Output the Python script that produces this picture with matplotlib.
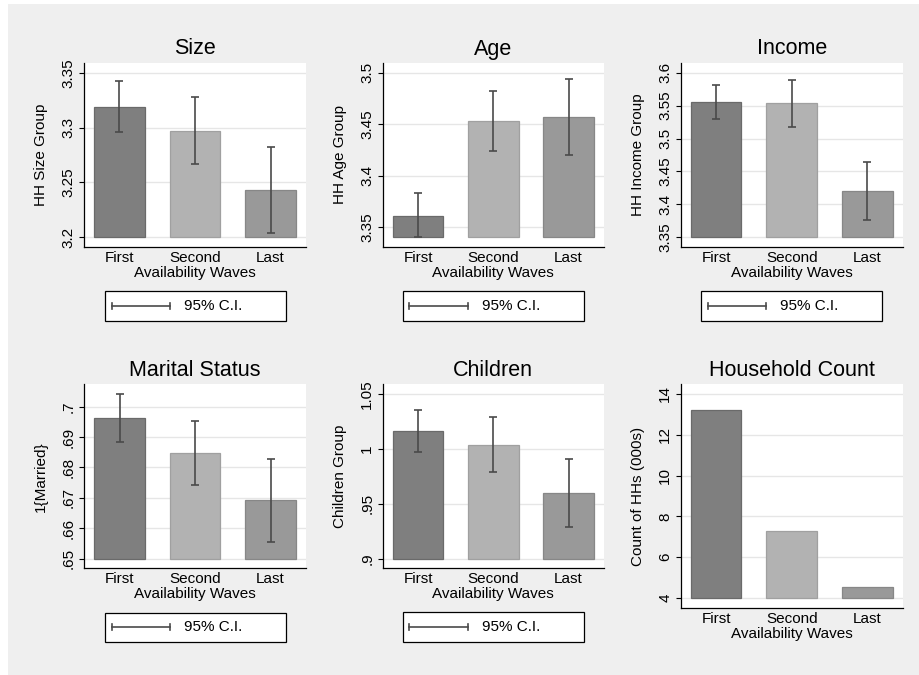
import matplotlib
matplotlib.use("Agg")
import matplotlib.pyplot as plt
from matplotlib.patches import Rectangle
from matplotlib.lines import Line2D

plt.rcParams["font.family"] = ["Liberation Sans", "DejaVu Sans"]

# ---- data -------------------------------------------------------------
waves = ["First", "Second", "Last"]

size_mean = [3.319, 3.297, 3.243]
size_lo = [3.296, 3.267, 3.204]
size_hi = [3.342, 3.328, 3.282]
size_ticks = [3.2, 3.25, 3.3, 3.35]
size_ticklabels = ["3.2", "3.25", "3.3", "3.35"]

age_mean = [3.361, 3.453, 3.457]
age_lo = [3.340, 3.424, 3.420]
age_hi = [3.383, 3.482, 3.494]
age_ticks = [3.35, 3.4, 3.45, 3.5]
age_ticklabels = ["3.35", "3.4", "3.45", "3.5"]

income_mean = [3.556, 3.554, 3.421]
income_lo = [3.529, 3.518, 3.377]
income_hi = [3.582, 3.589, 3.464]
income_ticks = [3.35, 3.4, 3.45, 3.5, 3.55, 3.6]
income_ticklabels = ["3.35", "3.4", "3.45", "3.5", "3.55", "3.6"]

married_mean = [0.6962, 0.6847, 0.6693]
married_lo = [0.6884, 0.6741, 0.6556]
married_hi = [0.7042, 0.6954, 0.6829]
married_ticks = [0.65, 0.66, 0.67, 0.68, 0.69, 0.70]
married_ticklabels = [".65", ".66", ".67", ".68", ".69", ".7"]

children_mean = [1.0163, 1.0038, 0.9595]
children_lo = [0.9975, 0.9786, 0.9286]
children_hi = [1.0351, 1.0287, 0.9911]
children_ticks = [0.9, 0.95, 1.0, 1.05]
children_ticklabels = [".9", ".95", "1", "1.05"]

hh_count = [13.22, 7.28, 4.55]
hh_ticks = [4, 6, 8, 10, 12, 14]
hh_ticklabels = ["4", "6", "8", "10", "12", "14"]

# ---- style ------------------------------------------------------------
W, H = 920, 675
BAR_COLORS = ["#7f7f7f", "#b2b2b2", "#999999"]
EDGE_COLORS = ["#6a6a6a", "#a0a0a0", "#878787"]
ERR_COLOR = "#4a4a4a"
GRID_COLOR = "#e6e6e6"
BG_COLOR = "#efefef"
FS = 11
TITLE_FS = 15.5

fig = plt.figure(figsize=(W / 100, H / 100), dpi=100)
fig.patch.set_facecolor("white")


def fx(x):
    return x / W


def fy(y):
    return 1 - y / H


# grey graph region
fig.add_artist(Rectangle((fx(8), fy(H)), fx(W - 8), 1 - (4 / H),
                         transform=fig.transFigure, facecolor=BG_COLOR,
                         edgecolor="none", zorder=0))


def make_axes(left, top, right, bottom):
    return fig.add_axes([fx(left), fy(bottom), fx(right - left), (bottom - top) / H])


def draw_panel(box, title, ylabel, means, ticks, ticklabels, lo=None, hi=None):
    left, top, right, bottom = box
    ax = make_axes(*box)
    ax.set_facecolor("white")
    h_px = bottom - top
    w_px = right - left

    rng_lo = min([ticks[0]] + (list(lo) if lo is not None else []))
    rng_hi = max([ticks[-1]] + (list(hi) if hi is not None else []))
    pad = (rng_hi - rng_lo) * 9.7 / (h_px - 19.4)
    ax.set_ylim(rng_lo - pad, rng_hi + pad)
    ax.set_xlim(-0.47, 2.47)

    x = list(range(len(waves)))
    heights = [m - rng_lo for m in means]
    ax.bar(x, heights, bottom=rng_lo, width=0.67, color=BAR_COLORS,
           edgecolor=EDGE_COLORS, linewidth=0.9, zorder=2)
    if lo is not None:
        yerr = [[m - l for m, l in zip(means, lo)], [h - m for m, h in zip(means, hi)]]
        ax.errorbar(x, means, yerr=yerr, fmt="none", ecolor=ERR_COLOR,
                    elinewidth=1.2, capsize=3.2, capthick=1.2, zorder=3)

    ax.set_yticks(ticks)
    ax.set_yticklabels(ticklabels, rotation=90, va="center")
    ax.set_xticks(x)
    ax.set_xticklabels(waves)
    ax.grid(axis="y", color=GRID_COLOR, linewidth=1.0, zorder=0)
    ax.set_axisbelow(True)

    for s in ["top", "right"]:
        ax.spines[s].set_visible(False)
    for s in ["left", "bottom"]:
        ax.spines[s].set_color("black")
        ax.spines[s].set_linewidth(0.9)

    ax.tick_params(axis="y", length=3.6, width=0.8, pad=2.5, labelsize=FS)
    ax.tick_params(axis="x", length=0, pad=3.0, labelsize=FS)
    ax.set_xlabel("Availability Waves", fontsize=FS, labelpad=0.5)
    ax.set_ylabel(ylabel, fontsize=FS)
    ax.yaxis.set_label_coords(-36 / w_px, 0.5)

    fig.text(fx((left + right) / 2), fy(top - 8.5), title, ha="center",
             va="baseline", fontsize=TITLE_FS)
    return ax


def draw_ci_key(left, top, right, bottom):
    fig.add_artist(Rectangle((fx(left), fy(bottom)), fx(right - left), (bottom - top) / H,
                             transform=fig.transFigure, facecolor="white",
                             edgecolor="black", linewidth=0.9, zorder=5))
    yc = (top + bottom) / 2
    x0, x1 = left + 6.7, left + 65
    fig.add_artist(Line2D([fx(x0), fx(x1)], [fy(yc), fy(yc)], transform=fig.transFigure,
                          color=ERR_COLOR, linewidth=1.2, zorder=6))
    for xc in (x0, x1):
        fig.add_artist(Line2D([fx(xc), fx(xc)], [fy(yc - 3), fy(yc + 3)],
                              transform=fig.transFigure, color=ERR_COLOR,
                              linewidth=1.2, zorder=6))
    fig.text(fx(left + 79), fy(yc), "95% C.I.", ha="left", va="center",
             fontsize=FS, zorder=6)


draw_panel((84, 63, 306, 247), "Size", "HH Size Group", size_mean,
           size_ticks, size_ticklabels, size_lo, size_hi)
draw_panel((382.7, 63, 604, 247), "Age", "HH Age Group", age_mean,
           age_ticks, age_ticklabels, age_lo, age_hi)
draw_panel((680.7, 63, 902.7, 247), "Income", "HH Income Group", income_mean,
           income_ticks, income_ticklabels, income_lo, income_hi)
draw_panel((84.3, 384.3, 306, 568.3), "Marital Status", "1{Married}", married_mean,
           married_ticks, married_ticklabels, married_lo, married_hi)
draw_panel((382.7, 384.3, 604, 568.3), "Children", "Children Group", children_mean,
           children_ticks, children_ticklabels, children_lo, children_hi)
draw_panel((680.7, 384.3, 902.7, 607.7), "Household Count", "Count of HHs (000s)",
           hh_count, hh_ticks, hh_ticklabels)

draw_ci_key(105, 291, 285.7, 320.7)
draw_ci_key(402.7, 291, 584.3, 320.7)
draw_ci_key(701, 291, 882.3, 320.7)
draw_ci_key(105, 612.7, 285.7, 641.7)
draw_ci_key(402.7, 612.3, 584.3, 641.7)

fig.savefig("out.png", dpi=100, facecolor=fig.get_facecolor())
